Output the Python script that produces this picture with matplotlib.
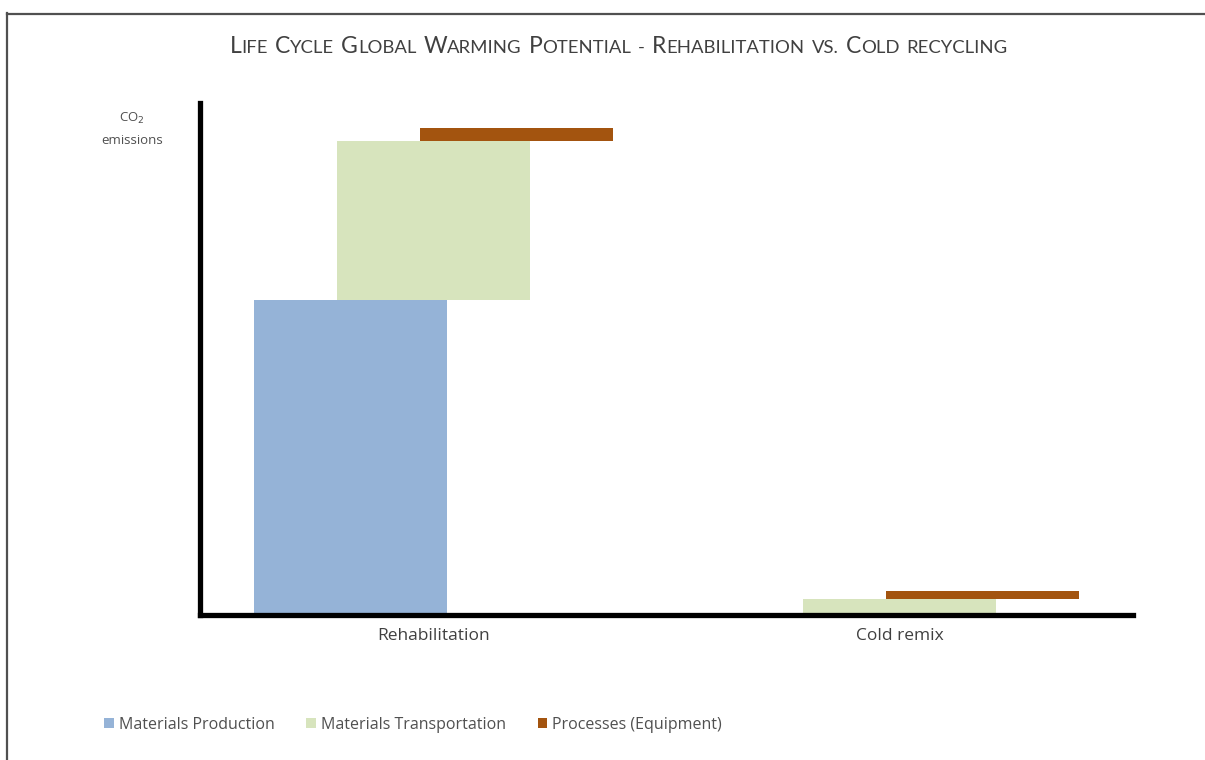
import matplotlib
matplotlib.use('Agg')
import matplotlib.pyplot as plt
from matplotlib.patches import Patch
from matplotlib.lines import Line2D
import numpy as np

categories = ['Rehabilitation', 'Cold remix']
series = ['Materials Production', 'Materials Transportation', 'Processes (Equipment)']
production = [315, 1]
transportation = [159, 15]
processes = [13, 8]
colors = ['#95B3D7', '#D7E4BD', '#A3540F']

title = 'Life Cycle Global Warming Potential - Rehabilitation vs. Cold recycling'

W, H = 1205, 760
fig = plt.figure(figsize=(W / 100, H / 100), dpi=100)
ax = fig.add_axes([200 / W, 1 - 615 / H, 933 / W, 512 / H])

x = np.arange(len(categories))
width = 0.414
shift = 0.178
production = np.array(production)
transportation = np.array(transportation)
processes = np.array(processes)

ax.bar(x - shift, production, width, color=colors[0], label=series[0])
ax.bar(x, transportation, width, bottom=production, color=colors[1], label=series[1])
ax.bar(x + shift, processes, width, bottom=production + transportation, color=colors[2], label=series[2])

ax.set_xlim(-0.5, 1.5)
ax.set_ylim(0, 512)
for side in ['top', 'right']:
    ax.spines[side].set_visible(False)
for side in ['left', 'bottom']:
    ax.spines[side].set_linewidth(3.8)
    ax.spines[side].set_color('black')
ax.set_yticks([])
ax.set_xticks(x)
ax.set_xticklabels(categories, fontsize=12.5, color='#404040', family='Open Sans')
ax.tick_params(axis='x', length=0, pad=9)

fig.text(132 / W, 1 - 118 / H, 'CO$_2$', ha='center', va='center', fontsize=9.5, color='#505050', family='Open Sans')
fig.text(132 / W, 1 - 140 / H, 'emissions', ha='center', va='center', fontsize=9.5, color='#505050', family='Open Sans')

# legend
handles = [Patch(facecolor=c, edgecolor='none') for c in colors]
fig.legend(handles, series, loc='center left', bbox_to_anchor=(90 / W, 1 - 725 / H), ncol=3,
           frameon=False, handlelength=0.6, handleheight=0.6, handletextpad=0.3, columnspacing=2.0,
           prop={'family': 'Open Sans', 'size': 11.5}, labelcolor='#505050')

# outer frame (partly cut off on the right and bottom)
fig.add_artist(Line2D([7.5 / W, 7.5 / W], [0, 1 - 13 / H], color='#505050', lw=1.6, transform=fig.transFigure))
fig.add_artist(Line2D([7 / W, 1], [1 - 13.5 / H, 1 - 13.5 / H], color='#505050', lw=1.6, transform=fig.transFigure))

# small caps title
renderer = fig.canvas.get_renderer()
big, small = 16.5, 13.3
runs = []
for word in title.split(' '):
    parts = []
    for ch in word:
        size = big if ch.isupper() else small
        if parts and parts[-1][1] == size:
            parts[-1][0] += ch.upper()
        else:
            parts.append([ch.upper(), size])
    runs.append(parts)

space = 7
texts = []
xpos = 0
for parts in runs:
    for s, size in parts:
        t = fig.text(0, 0, s, transform=None, fontsize=size, family='Lato', color='#404040', va='baseline')
        w = t.get_window_extent(renderer).width
        texts.append((t, xpos))
        xpos += w
    xpos += space
total = xpos - space
x0 = (222 + 1015) / 2 - total / 2
for t, off in texts:
    t.set_position((x0 + off, H - 53))

fig.savefig('out.png', dpi=100, facecolor='white')
